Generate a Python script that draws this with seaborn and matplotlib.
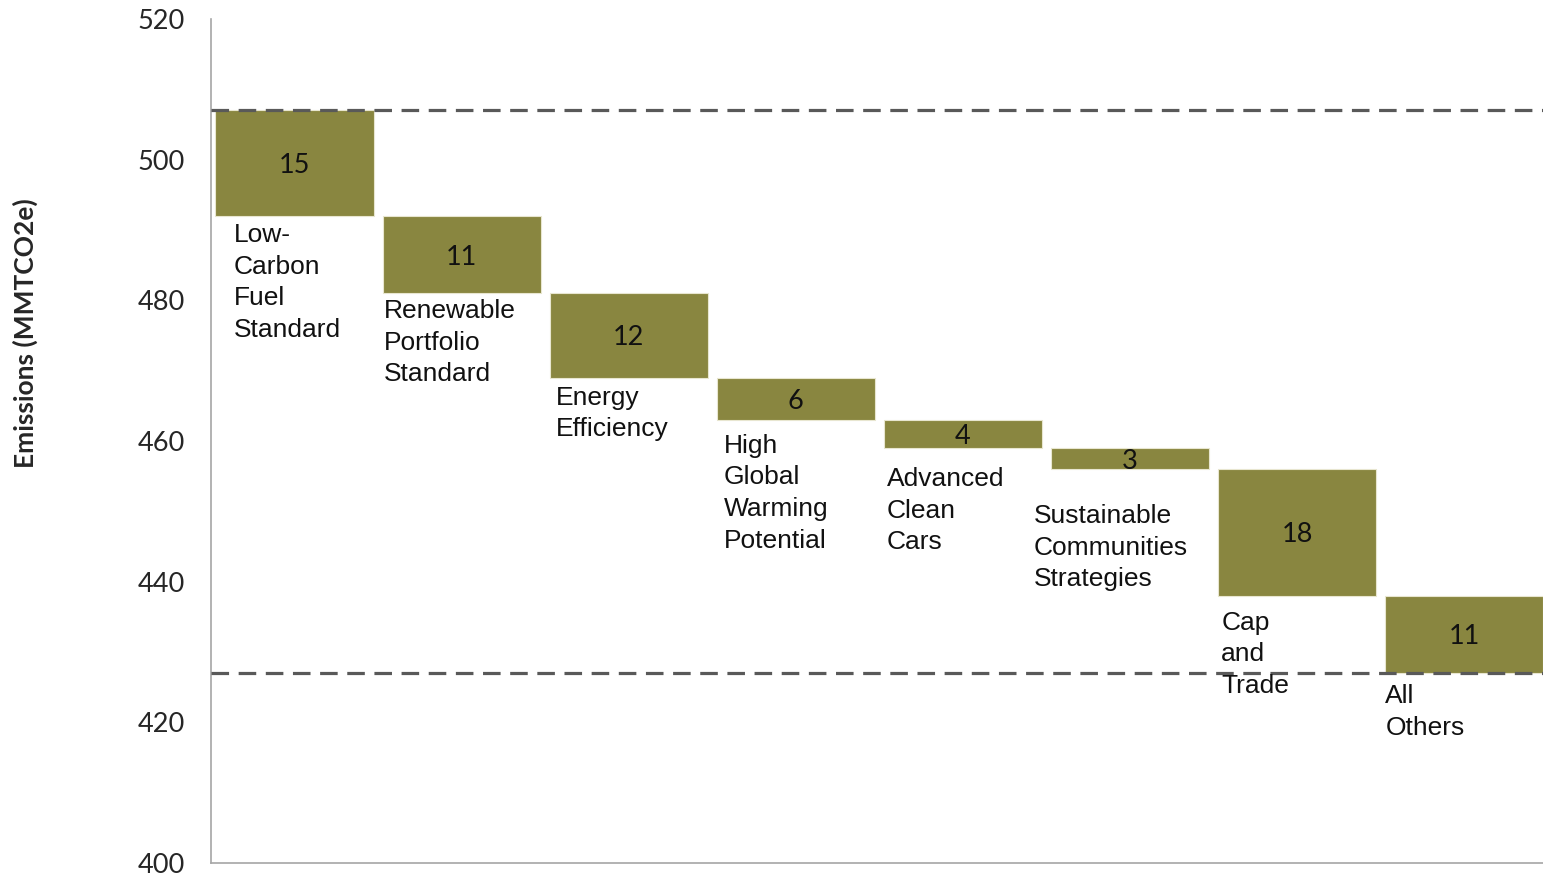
import numpy as np
import pandas as pd
import seaborn as sns
import matplotlib.pyplot as plt

categories = ["Low-\nCarbon\nFuel\nStandard", "Renewable\nPortfolio\nStandard",
              "Energy\nEfficiency", "High\nGlobal\nWarming\nPotential",
              "Advanced\nClean\nCars", "Sustainable\nCommunities\nStrategies",
              "Cap\nand\nTrade", "All\nOthers"]
reductions = [15, 11, 12, 6, 4, 3, 18, 11]
start_level = 507
y_ticks = [400, 420, 440, 460, 480, 500, 520]

# label placement tweaks (pixels from bar's lower-left corner)
label_dx = [18, 1, 6, 7, 3, -17, 3, 0]
label_dy = [-7, -6, -8, -14, -19, -35, -15, -11]

tops = start_level - np.concatenate([[0], np.cumsum(reductions)[:-1]])
bottoms = tops - np.array(reductions)
end_level = bottoms[-1]

df = pd.DataFrame({"measure": categories, "reduction": reductions})

sns.set_style("white")
fig = plt.figure(figsize=(15.43, 8.74), dpi=100)
ax = fig.add_axes([0.1367, 0.0126, 0.8665, 0.9657])

bar_color = "#898640"
sns.barplot(data=df, x="measure", y="reduction", color=bar_color, saturation=1,
            width=0.946, edgecolor="#e8e6d0", linewidth=0.8, ax=ax)

for patch, b in zip(ax.patches, bottoms):
    patch.set_y(b)

ax.set_xlim(-0.5, 7.5)
ax.set_ylim(400, 520)

for lvl in [start_level, end_level]:
    ax.axhline(lvl, color="#595959", lw=2.3, dashes=(5.5, 3), zorder=3)

for i, (val, top, bot) in enumerate(zip(reductions, tops, bottoms)):
    ax.text(i, (top + bot) / 2, str(val), ha="center", va="center_baseline",
            fontsize=19.5, family="Lato", color="#111111", zorder=4)
    ax.annotate(categories[i], xy=(i - 0.473, bot), xytext=(label_dx[i], label_dy[i]),
                textcoords="offset pixels", ha="left", va="top",
                fontsize=19, family="Liberation Sans", color="#111111",
                linespacing=1.40, zorder=4)

ax.set_yticks(y_ticks)
ax.set_yticklabels([str(t) for t in y_ticks], family="Lato", fontsize=19.5)
ax.tick_params(axis="y", length=0, pad=19)
ax.set_xticks([])
ax.set_xlabel("")
ax.set_ylabel("")

for side in ["top", "right"]:
    ax.spines[side].set_visible(False)
for side in ["left", "bottom"]:
    ax.spines[side].set_color("#a6a6a6")
    ax.spines[side].set_linewidth(1.2)

fig.text(25 / 1543, 1 - 333 / 874, "Emissions (MMTCO2e)", rotation=90,
         ha="center", va="center", fontsize=19, fontweight="bold", family="Lato")

fig.savefig("out.png", dpi=100)
plt.close()
